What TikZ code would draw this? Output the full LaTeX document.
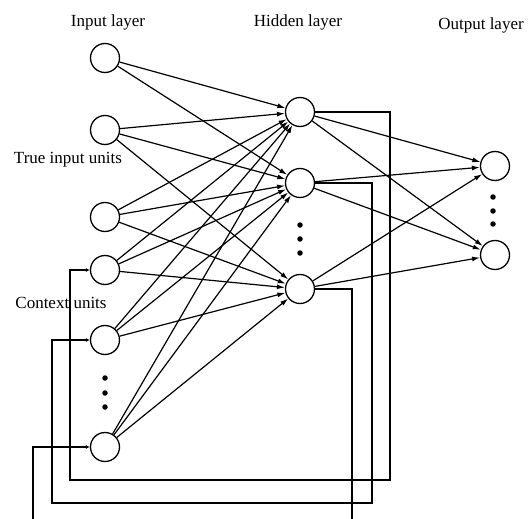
\documentclass[tikz,border=0pt]{standalone}
\usepackage{fontspec}
\setmainfont{Liberation Serif}
\usetikzlibrary{arrows.meta}
\begin{document}
\begin{tikzpicture}[x=1pt,y=-1pt,
 neuron/.style={circle,draw,line width=1.3pt,minimum size=29pt,inner sep=0pt},
 conn/.style={line width=1.2pt,-{Latex[length=8pt,width=5pt]}},
 fb/.style={line width=1.5pt,-{Latex[length=4pt,width=4pt]}},
 fbl/.style={line width=1.5pt},
 lbl/.style={font=\fontsize{17}{20}\selectfont},
 vdot/.style={circle,fill,inner sep=0pt,minimum size=5.5pt}]
\useasboundingbox (0,0) rectangle (528,519);
% labels
\node[lbl] (tin) at (108,22) {Input layer};
\node[lbl] (thid) at (298,22) {Hidden layer};
\node[lbl] (tout) at (481,25) {Output layer};
\node[lbl] (ttrue) at (68,160) {True input units};
\node[lbl] (tctx) at (61,303) {Context units};
% input nodes
\node[neuron] (i1) at (105,58) {};
\node[neuron] (i2) at (105,130) {};
\node[neuron] (i3) at (105,217) {};
\node[neuron] (i4) at (105,270) {};
\node[neuron] (i5) at (105,340) {};
\node[neuron] (i6) at (105,447) {};
\node[vdot] (di1) at (105,378) {};
\node[vdot] (di2) at (105,393) {};
\node[vdot] (di3) at (105,407) {};
% hidden nodes
\node[neuron] (h1) at (300,112) {};
\node[neuron] (h2) at (300,183) {};
\node[neuron] (h3) at (300,289) {};
\node[vdot] (dh1) at (300,225) {};
\node[vdot] (dh2) at (300,239) {};
\node[vdot] (dh3) at (300,253) {};
% output nodes
\node[neuron] (o1) at (495,166) {};
\node[neuron] (o2) at (495,255) {};
\node[vdot] (do1) at (493,197) {};
\node[vdot] (do2) at (493,211) {};
\node[vdot] (do3) at (493,224) {};
% input -> hidden
\draw[conn] (i1) -- (h1);
\draw[conn] (i1) -- (h2);
\foreach \i in {2,...,6}{
  \foreach \h in {1,2,3}{
    \draw[conn] (i\i) -- (h\h);
  }
}
% hidden -> output
\foreach \h in {1,2,3}{
  \foreach \o in {1,2}{
    \draw[conn] (h\h) -- (o\o);
  }
}
% feedback coordinates
\coordinate (f1a) at (390,480);
\coordinate (f1b) at (70,270);
\coordinate (f2a) at (372,503);
\coordinate (f2b) at (52,340);
\coordinate (f3a) at (352,519);
\coordinate (f4a) at (33,519);
\draw[fb] (h1.east) -| (f1a) -| (f1b) -- (i4.west);
\draw[fb] (h2.east) -| (f2a) -| (f2b) -- (i5.west);
\draw[fbl] (h3.east) -| (f3a);
\draw[fb] (f4a) |- (i6.west);
\end{tikzpicture}
\end{document}
